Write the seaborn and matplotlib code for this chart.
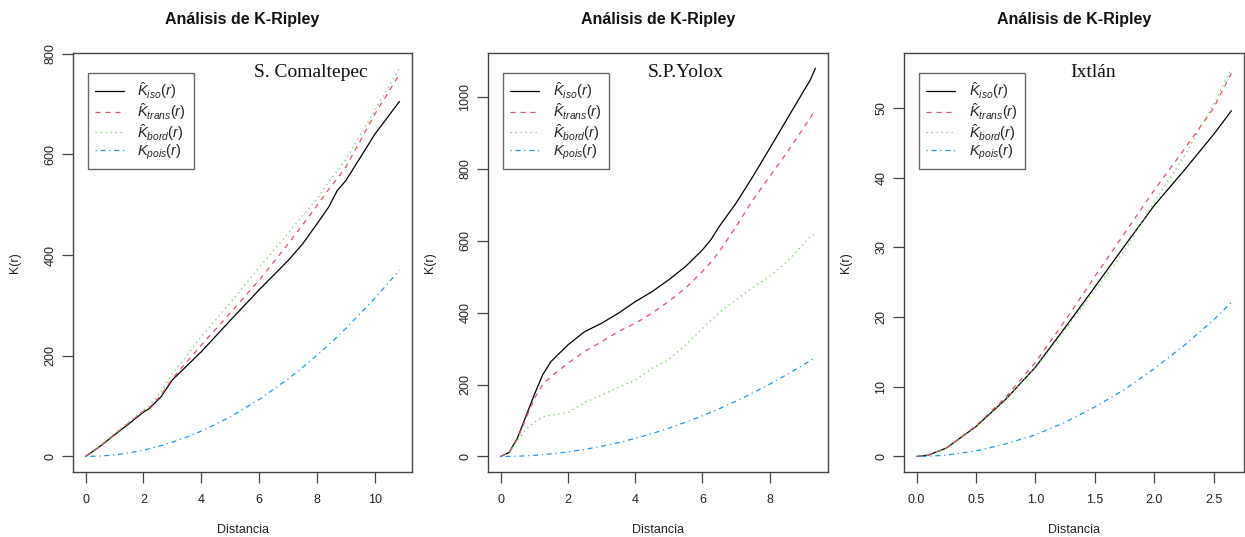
import numpy as np
import pandas as pd
import matplotlib
matplotlib.use("Agg")
import matplotlib.pyplot as plt
import seaborn as sns

# ---------------- data ----------------
panel_names = ["S. Comaltepec", "S.P.Yolox", "Ixtlán"]
series_labels = [r"$\hat{K}_{iso}(r)$", r"$\hat{K}_{trans}(r)$",
                 r"$\hat{K}_{bord}(r)$", r"$K_{pois}(r)$"]

r1 = [0, 0.5, 1, 1.5, 2, 2.2, 2.6, 3, 3.5, 4, 5, 6, 7, 7.5, 8, 8.4, 8.7, 9, 10, 10.85]
iso1 = [0, 20, 43, 65, 88, 95, 118, 152, 180, 208, 270, 331, 389, 422, 462, 495, 528, 548, 640, 705]
trans1 = [0, 21, 44, 67, 90, 97, 121, 155, 188, 221, 285, 350, 422, 460, 498, 530, 552, 575, 680, 759]
bord1 = [0, 21, 45, 69, 92, 100, 128, 165, 201, 238, 305, 375, 443, 478, 512, 545, 567, 590, 687, 771]
pois1 = [0, 0.8, 3.1, 7.1, 12.6, 15.2, 21.2, 28.3, 38.5, 50.3, 78.5, 113.1, 153.9, 176.7,
         201.1, 221.7, 237.8, 254.5, 314.2, 369.8]

r2 = [0, 0.25, 0.5, 0.75, 1, 1.25, 1.5, 2, 2.5, 3, 3.5, 4, 4.5, 5, 5.5, 6, 6.25, 6.5,
      7, 7.5, 8, 8.5, 9, 9.2, 9.36]
iso2 = [0, 11, 51, 111, 171, 227, 264, 310, 347, 370, 398, 430, 458, 491, 528, 574, 602,
        639, 704, 778, 856, 935, 1014, 1045, 1079]
trans2 = [0, 10, 48, 105, 160, 200, 222, 259, 292, 319, 347, 370, 398, 431, 468, 514, 540,
          569, 639, 713, 778, 843, 912, 940, 963]
bord2 = [0, 10, 45, 75, 95, 110, 115, 122, 150, 170, 192, 212, 245, 270, 310, 355, 378,
         400, 435, 470, 500, 540, 590, 612, 618]
pois2 = [0, 0.2, 0.8, 1.8, 3.1, 4.9, 7.1, 12.6, 19.6, 28.3, 38.5, 50.3, 63.6, 78.5, 95.0,
         113.1, 122.7, 132.7, 153.9, 176.7, 201.1, 227.0, 254.5, 265.9, 275.2]

r3 = [0, 0.1, 0.25, 0.5, 0.75, 1, 1.25, 1.5, 1.75, 2, 2.25, 2.5, 2.65]
iso3 = [0, 0.2, 1.2, 4.3, 8.2, 12.8, 18.5, 24.3, 30.2, 36.0, 41.0, 46.2, 49.6]
trans3 = [0, 0.2, 1.2, 4.4, 8.5, 13.5, 19.5, 25.8, 32.0, 38.2, 44.0, 50.0, 55.0]
bord3 = [0, 0.2, 1.2, 4.3, 8.2, 12.7, 18.2, 23.8, 29.5, 36.5, 43.0, 50.5, 55.7]
pois3 = [0, 0.03, 0.2, 0.8, 1.8, 3.1, 4.9, 7.1, 9.6, 12.6, 15.9, 19.6, 22.1]

xticks = [[0, 2, 4, 6, 8, 10], [0, 2, 4, 6, 8], [0.0, 0.5, 1.0, 1.5, 2.0, 2.5]]
xticklabels = [["0", "2", "4", "6", "8", "10"], ["0", "2", "4", "6", "8"],
               ["0.0", "0.5", "1.0", "1.5", "2.0", "2.5"]]
yticks = [[0, 200, 400, 600, 800], [0, 200, 400, 600, 800, 1000], [0, 10, 20, 30, 40, 50]]

panels = [
    (r1, [iso1, trans1, bord1, pois1]),
    (r2, [iso2, trans2, bord2, pois2]),
    (r3, [iso3, trans3, bord3, pois3]),
]

# ---------------- style ----------------
sns.set_style("ticks")
plt.rcParams["font.family"] = ["Liberation Sans", "DejaVu Sans"]
plt.rcParams["mathtext.fontset"] = "custom"
plt.rcParams["mathtext.rm"] = "Liberation Sans"
plt.rcParams["mathtext.it"] = "Liberation Sans:italic"
plt.rcParams["mathtext.bf"] = "Liberation Sans:bold"

colors = ["#000000", "#DF536B", "#61D04F", "#2297E6"]
styles = ["-", (0, (4, 4)), (0, (1, 3)), (0, (1, 3, 4, 3))]
box_col = "#444444"

fig = plt.figure(figsize=(12.45, 5.37), dpi=100)
lefts = [73 / 1245, 488 / 1245, 904 / 1245]
widths = [339 / 1245, 340 / 1245, 340 / 1245]
bottom = 1 - 472 / 537
height = 419.3 / 537
text_x = [0.703, 0.582, 0.556]

for i, (r, ys) in enumerate(panels):
    ax = fig.add_axes([lefts[i], bottom, widths[i], height])
    handles = []
    for j, y in enumerate(ys):
        df = pd.DataFrame({"r": r, "K": y})
        sns.lineplot(data=df, x="r", y="K", ax=ax, color=colors[j], linestyle=styles[j],
                     linewidth=0.9, sort=False, estimator=None)
        handles.append(ax.lines[-1])
    xmin, xmax = min(r), max(r)
    allv = [v for s in ys for v in s]
    ymin, ymax = min(allv), max(allv)
    dx, dy = (xmax - xmin) * 0.04, (ymax - ymin) * 0.04
    ax.set_xlim(xmin - dx, xmax + dx)
    ax.set_ylim(ymin - dy, ymax + dy)
    ax.set_xticks(xticks[i])
    ax.set_xticklabels(xticklabels[i])
    ax.set_yticks(yticks[i])
    ax.set_yticklabels([str(t) for t in yticks[i]])
    ax.tick_params(axis="both", direction="out", length=8, width=0.9, color=box_col,
                   labelsize=9, labelcolor="#222222", bottom=True, left=True)
    ax.tick_params(axis="x", pad=8)
    ax.tick_params(axis="y", labelrotation=90, pad=4)
    for lab in ax.get_yticklabels():
        lab.set_va("center")
        lab.set_ha("right")
    for sp in ax.spines.values():
        sp.set_visible(True)
        sp.set_color(box_col)
        sp.set_linewidth(1.0)
    ax.set_xlabel("Distancia", fontsize=9, color="#222222")
    ax.set_ylabel("K(r)", fontsize=9, color="#222222")
    ax.xaxis.set_label_coords(0.5, -0.124)
    ax.yaxis.set_label_coords(-52 / (widths[i] * 1245), 0.5)
    ax.text(0.5, 1.078, "Análisis de K-Ripley", transform=ax.transAxes, ha="center",
            va="center", fontsize=11.5, fontweight="bold", color="#111111")
    ax.text(text_x[i], 0.952, panel_names[i], transform=ax.transAxes, ha="center",
            va="center", fontsize=14, family="Liberation Serif", color="#111111")
    leg = ax.legend(handles, series_labels, loc="upper left", bbox_to_anchor=(0.044, 0.952),
                    borderaxespad=0, fontsize=10.5, frameon=True, fancybox=False,
                    handlelength=2.0, handletextpad=0.9, labelspacing=0.0,
                    borderpad=0.5)
    leg.get_frame().set_edgecolor(box_col)
    leg.get_frame().set_linewidth(1.0)

fig.savefig("out.png", dpi=100)
